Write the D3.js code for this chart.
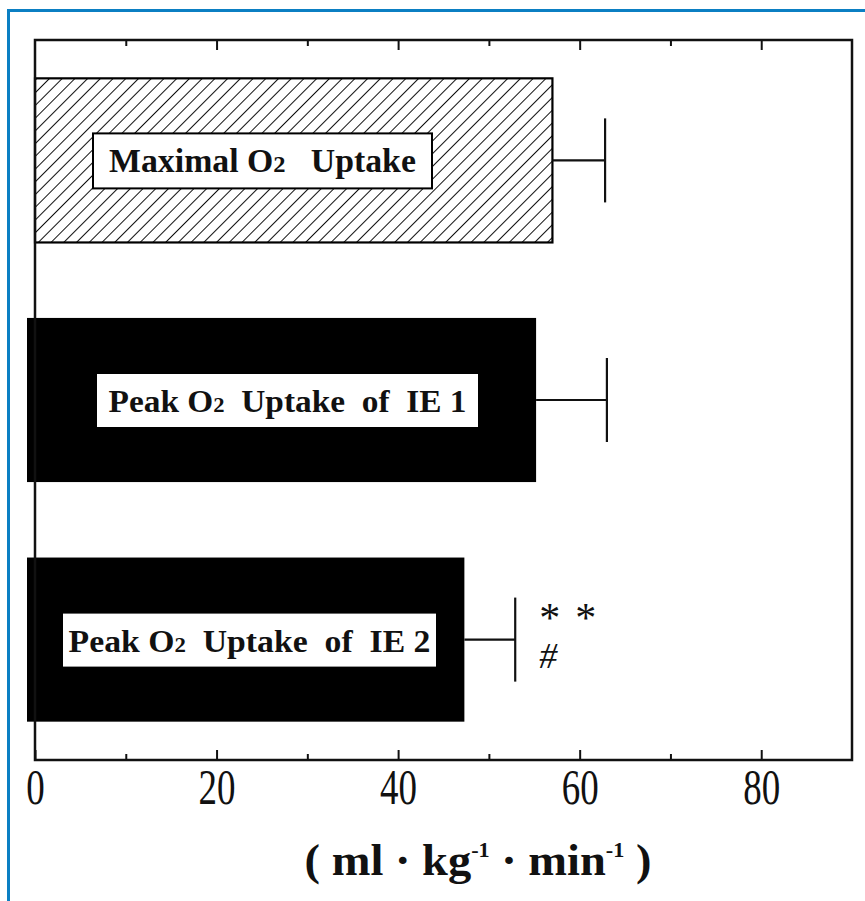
<!DOCTYPE html>
<html>
<head>
<meta charset="utf-8">
<script src="https://cdn.jsdelivr.net/npm/d3@7"></script>
<style>
    html, body { margin: 0; padding: 0; background: #fff; }
    svg { display: block; }
</style>
</head>
<body>
<div id="chart"></div>
<script>
// data
const categories = ["maximal", "ie1", "ie2"];
const labelParts = [
    ["Maximal O", "2", "   Uptake"],
    ["Peak O", "2", "  Uptake  of  IE 1"],
    ["Peak O", "2", "  Uptake  of  IE 2"],
];
const means = [57.0, 55.2, 47.3];
const sds = [5.8, 7.8, 5.6];
const sigMarks = [[], [], ["**", "#"]];
const majorTicks = [0, 20, 40, 60, 80];
const minorTicks = [10, 30, 50, 70];
const xDomain = [0, 90];

// layout (pixels)
const width = 865;
const height = 901;
const plot = { left: 35, right: 852, top: 40, bottom: 760 };
const labelBoxes = [[93, 432], [96, 479], [62, 437]];
const labelWidths = [307, 358, 362];
const solidOverhang = 8; // the solid bars bleed a little past the left axis in the scan
const serif = "'Liberation Serif', 'Times New Roman', serif";

const svg = d3.select("#chart")
    .append("svg")
    .attr("width", width)
    .attr("height", height);

// blue page border
svg.append("path")
    .attr("d", `M8.5,${height} V10.5 H${width}`)
    .attr("fill", "none")
    .attr("stroke", "#0b7fc3")
    .attr("stroke-width", 3);

const x = d3.scaleLinear()
    .domain(xDomain)
    .range([plot.left, plot.right]);
const y = d3.scaleBand()
    .domain(categories)
    .range([plot.top, plot.bottom])
    .paddingInner(0.315)
    .paddingOuter(0.16);

const defs = svg.append("defs");
const hatch = defs.append("pattern")
    .attr("id", "hatch")
    .attr("patternUnits", "userSpaceOnUse")
    .attr("width", 9)
    .attr("height", 9)
    .attr("patternTransform", "rotate(45)");
hatch.append("line")
    .attr("x1", 0).attr("y1", 0)
    .attr("x2", 0).attr("y2", 9)
    .attr("stroke", "#111")
    .attr("stroke-width", 2);

const rows = categories.map((c, i) => ({
    cat: c, mean: means[i], sd: sds[i], parts: labelParts[i],
    box: labelBoxes[i], textW: labelWidths[i], marks: sigMarks[i], i: i
}));

// bars
svg.selectAll("rect.bar")
    .data(rows)
    .join("rect")
    .attr("class", "bar")
    .attr("x", d => d.i == 0 ? x(0) : x(0) - solidOverhang)
    .attr("y", d => y(d.cat))
    .attr("width", d => x(d.mean) - x(0) + (d.i == 0 ? 0 : solidOverhang))
    .attr("height", y.bandwidth())
    .attr("fill", d => d.i == 0 ? "url(#hatch)" : "#000")
    .attr("stroke", "#000")
    .attr("stroke-width", d => d.i == 0 ? 2.2 : 0);

const mid = d => y(d.cat) + y.bandwidth() / 2;
const capHalf = y.bandwidth() * 0.256;

// error bars
const err = svg.append("g")
    .attr("stroke", "#111")
    .attr("stroke-width", 2.2);
err.selectAll("line.whisker")
    .data(rows)
    .join("line")
    .attr("class", "whisker")
    .attr("x1", d => x(d.mean))
    .attr("x2", d => x(d.mean + d.sd))
    .attr("y1", mid)
    .attr("y2", mid);
err.selectAll("line.cap")
    .data(rows)
    .join("line")
    .attr("class", "cap")
    .attr("x1", d => x(d.mean + d.sd))
    .attr("x2", d => x(d.mean + d.sd))
    .attr("y1", d => mid(d) - capHalf)
    .attr("y2", d => mid(d) + capHalf);

// label boxes inside bars
svg.selectAll("rect.labelbox")
    .data(rows)
    .join("rect")
    .attr("class", "labelbox")
    .attr("x", d => d.box[0])
    .attr("y", d => mid(d) - 27)
    .attr("width", d => d.box[1] - d.box[0])
    .attr("height", 55)
    .attr("fill", "#fff")
    .attr("stroke", "#000")
    .attr("stroke-width", 2);

const fitText = (sel, target, cx, by) => {
    const w = sel.node().getComputedTextLength();
    sel.attr("transform", `translate(${cx},${by}) scale(${target / w},1)`);
};

rows.forEach(d => {
    const t = svg.append("text")
        .attr("text-anchor", "middle")
        .attr("font-family", serif)
        .attr("font-weight", "bold")
        .attr("font-size", d.i == 0 ? 33 : 31)
        .attr("fill", "#111")
        .style("white-space", "pre");
    t.append("tspan").text(d.parts[0]);
    t.append("tspan").attr("font-size", d.i == 0 ? 24 : 21).text(d.parts[1]);
    t.append("tspan").text(d.parts[2]);
    fitText(t, d.textW, (d.box[0] + d.box[1]) / 2, mid(d) + 12);
});

// significance marks
rows.filter(d => d.marks.length).forEach(d => {
    const mx = x(d.mean + d.sd) + 24;
    svg.append("text")
        .attr("x", mx)
        .attr("y", mid(d) - 8)
        .attr("font-family", serif)
        .attr("font-size", 42)
        .attr("letter-spacing", 15)
        .attr("fill", "#111")
        .text(d.marks[0]);
    svg.append("text")
        .attr("x", mx)
        .attr("y", mid(d) + 28)
        .attr("font-family", serif)
        .attr("font-size", 36)
        .attr("font-style", "italic")
        .attr("fill", "#111")
        .text(d.marks[1]);
});

// axes: ticks point inward on top and bottom
const styleTicks = g => {
    g.select(".domain").remove();
    g.selectAll(".tick line").attr("stroke", "#111").attr("stroke-width", 2);
};

svg.append("g")
    .attr("transform", `translate(0,${plot.bottom})`)
    .call(d3.axisBottom(x).tickValues(majorTicks).tickSize(-10).tickFormat(d3.format("d")))
    .call(styleTicks)
    .selectAll("text")
    .attr("font-family", serif)
    .attr("font-size", 50)
    .attr("fill", "#111")
    .attr("y", 44)
    .attr("dy", 0)
    .attr("transform", "scale(0.74,1)");

svg.append("g")
    .attr("transform", `translate(0,${plot.bottom})`)
    .call(d3.axisBottom(x).tickValues(minorTicks).tickSize(-6).tickFormat(""))
    .call(styleTicks);

svg.append("g")
    .attr("transform", `translate(0,${plot.top})`)
    .call(d3.axisTop(x).tickValues(majorTicks.slice(1)).tickSize(-10).tickFormat(""))
    .call(styleTicks);

svg.append("g")
    .attr("transform", `translate(0,${plot.top})`)
    .call(d3.axisTop(x).tickValues(minorTicks).tickSize(-6).tickFormat(""))
    .call(styleTicks);

// frame
svg.append("rect")
    .attr("x", plot.left)
    .attr("y", plot.top)
    .attr("width", plot.right - plot.left)
    .attr("height", plot.bottom - plot.top)
    .attr("fill", "none")
    .attr("stroke", "#111")
    .attr("stroke-width", 2.5);

// unit label
const unit = svg.append("text")
    .attr("text-anchor", "middle")
    .attr("font-family", serif)
    .attr("font-weight", "bold")
    .attr("font-size", 44)
    .attr("fill", "#111")
    .style("white-space", "pre");
unit.append("tspan").text("( ml · kg");
unit.append("tspan").attr("font-size", 21).attr("dy", -18).text("-1");
unit.append("tspan").attr("dy", 18).text(" · min");
unit.append("tspan").attr("font-size", 21).attr("dy", -18).text("-1");
unit.append("tspan").attr("dy", 18).text(" )");
fitText(unit, 347, 478, 875);
</script>
</body>
</html>
